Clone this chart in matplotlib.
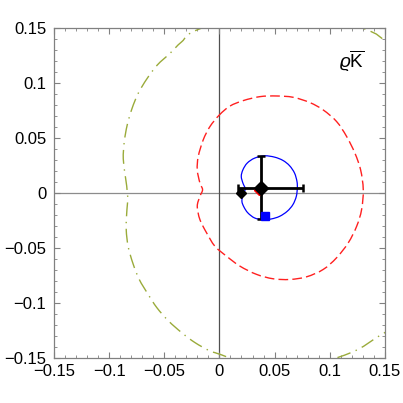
import matplotlib
matplotlib.use("Agg")
import matplotlib.pyplot as plt
from matplotlib.ticker import FixedLocator, MultipleLocator
from matplotlib.path import Path
from matplotlib.patches import PathPatch

plt.rcParams['font.family'] = ['Liberation Sans', 'DejaVu Sans']
plt.rcParams['mathtext.fontset'] = 'custom'
plt.rcParams['mathtext.rm'] = 'Liberation Sans'
plt.rcParams['mathtext.it'] = 'Liberation Sans:italic'
plt.rcParams['lines.scale_dashes'] = False

# ---- data ----
red_x = [0.0000, 0.0095, 0.0216, 0.0367, 0.0518, 0.0669, 0.0820, 0.0941, 0.1062,
         0.1153, 0.1228, 0.1280, 0.1304, 0.1289, 0.1244, 0.1168, 0.1062, 0.0941,
         0.0790, 0.0639, 0.0488, 0.0337, 0.0186, 0.0065, -0.0041, -0.0116, -0.0177,
         -0.0201, -0.0177, -0.0153, -0.0177, -0.0201, -0.0192, -0.0147, -0.0086]
red_y = [0.0710, 0.0790, 0.0840, 0.0876, 0.0882, 0.0870, 0.0822, 0.0755, 0.0650,
         0.0514, 0.0363, 0.0211, 0.0030, -0.0151, -0.0303, -0.0453, -0.0589, -0.0695,
         -0.0762, -0.0786, -0.0780, -0.0740, -0.0665, -0.0575, -0.0484, -0.0363, -0.0242,
         -0.0121, -0.0031, 0.0030, 0.0091, 0.0211, 0.0332, 0.0483, 0.0604]

blue_x = [0.0410, 0.0500, 0.0576, 0.0636, 0.0681, 0.0703, 0.0706, 0.0697, 0.0666,
          0.0615, 0.0546, 0.0470, 0.0394, 0.0319, 0.0258, 0.0222, 0.0204, 0.0213,
          0.0234, 0.0213, 0.0198, 0.0213, 0.0252, 0.0319]
blue_y = [0.0338, 0.0326, 0.0296, 0.0248, 0.0181, 0.0105, 0.0045, -0.0031, -0.0106,
          -0.0166, -0.0212, -0.0236, -0.0242, -0.0227, -0.0181, -0.0127, -0.0076, -0.0015,
          0.0036, 0.0090, 0.0151, 0.0211, 0.0272, 0.0317]

green_x = [0.160, 0.144, 0.126, 0.106, 0.056, 0.002, -0.0086, -0.0222, -0.0343,
           -0.0461, -0.0567, -0.0648, -0.0727, -0.0784, -0.0827, -0.0845, -0.0841,
           -0.0832, -0.0854, -0.0872, -0.0863, -0.0836, -0.0793, -0.0736, -0.0657,
           -0.0564, -0.0449, -0.0343, -0.0177, 0.056, 0.1304, 0.150, 0.160]
green_y = [-0.121, -0.1305, -0.142, -0.150, -0.166, -0.1472, -0.1436, -0.1360, -0.1269,
           -0.1164, -0.1043, -0.0919, -0.0786, -0.0641, -0.0490, -0.0336, -0.0187,
           -0.0031, 0.0157, 0.0311, 0.0465, 0.0619, 0.0767, 0.0907, 0.1039,
           0.1163, 0.1269, 0.1374, 0.1493, 0.172, 0.1496, 0.1383, 0.128]

point_x, point_y = 0.0379, 0.0045
point_xerr = [[0.0211], [0.0378]]
point_yerr = [[0.0283], [0.0293]]
red_pt = (0.0355, 0.0030)
black_pt2 = (0.0198, -0.0003)
blue_sq = (0.0410, -0.0212)

ticks = [-0.15, -0.1, -0.05, 0, 0.05, 0.1, 0.15]
tick_labels = ['\u22120.15', '\u22120.1', '\u22120.05', '0', '0.05', '0.1', '0.15']
label_text = r'$\varrho\overline{\mathrm{K}}$'


def smooth_path(xs, ys, closed):
    """Catmull-Rom through the read points, drawn as cubic Bezier segments."""
    pts = list(zip(xs, ys))
    n = len(pts)
    if closed:
        get = lambda i: pts[i % n]
        segs = n
    else:
        get = lambda i: pts[min(max(i, 0), n - 1)]
        segs = n - 1
    verts = [get(0)]
    codes = [Path.MOVETO]
    for i in range(segs):
        p0, p1, p2, p3 = get(i - 1), get(i), get(i + 1), get(i + 2)
        c1 = (p1[0] + (p2[0] - p0[0]) / 6, p1[1] + (p2[1] - p0[1]) / 6)
        c2 = (p2[0] - (p3[0] - p1[0]) / 6, p2[1] - (p3[1] - p1[1]) / 6)
        verts += [c1, c2, p2]
        codes += [Path.CURVE4] * 3
    return Path(verts, codes)


# ---- figure ----
fig = plt.figure(figsize=(4.03, 4.03), dpi=100)
ax = fig.add_axes([0.134, 0.1117, 0.821, 0.8188])
ax.set_xlim(-0.15, 0.15)
ax.set_ylim(-0.15, 0.15)

ax.axhline(0, color='#8c8c8c', lw=0.9, zorder=1)
ax.axvline(0, color='#505050', lw=0.9, zorder=1)

ax.add_patch(PathPatch(smooth_path(green_x, green_y, False), fill=False,
                       edgecolor='#9aab3a', lw=1.0,
                       linestyle=(0, (10, 4, 1, 4)), zorder=2))
ax.add_patch(PathPatch(smooth_path(red_x, red_y, True), fill=False,
                       edgecolor='#ff2020', lw=1.0,
                       linestyle=(0, (7, 3)), zorder=2))
ax.add_patch(PathPatch(smooth_path(blue_x, blue_y, True), fill=False,
                       edgecolor='#0000ff', lw=0.9, zorder=3))

ax.errorbar([point_x], [point_y], xerr=point_xerr, yerr=point_yerr,
            fmt='none', ecolor='black', elinewidth=2.0, capsize=3, capthick=1.8, zorder=4)
ax.plot([red_pt[0]], [red_pt[1]], marker='D', color='#ff0000', ms=5.5, ls='none', zorder=5)
ax.plot([point_x], [point_y], marker='D', color='black', ms=7, ls='none', zorder=6)
ax.plot([black_pt2[0]], [black_pt2[1]], marker='D', color='black', ms=5.5, ls='none', zorder=6)
ax.plot([blue_sq[0]], [blue_sq[1]], marker='s', color='#0000ff', ms=5.5, ls='none', zorder=6)

ax.text(0.1195, 0.1195, label_text, fontsize=13.5, ha='center', va='center')

ax.xaxis.set_major_locator(FixedLocator(ticks))
ax.yaxis.set_major_locator(FixedLocator(ticks))
ax.set_xticklabels(tick_labels)
ax.set_yticklabels(tick_labels)
ax.xaxis.set_minor_locator(MultipleLocator(0.01))
ax.yaxis.set_minor_locator(MultipleLocator(0.01))
ax.tick_params(which='both', direction='in', top=True, right=True,
               color='#808080', labelsize=12)
ax.tick_params(axis='x', which='major', pad=4.5)
ax.tick_params(axis='y', which='major', pad=5.5)
ax.tick_params(which='major', length=4, width=0.8)
ax.tick_params(which='minor', length=2, width=0.6)
for s in ax.spines.values():
    s.set_color('#808080')
    s.set_linewidth(0.9)

fig.savefig('out.png', dpi=100)
